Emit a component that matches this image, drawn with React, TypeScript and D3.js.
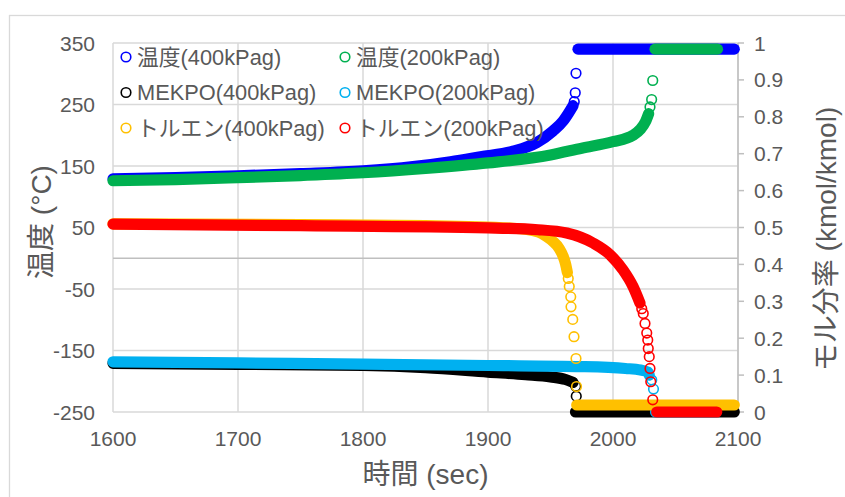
import React from 'react';
import * as d3 from 'd3';

type Pt = [number, number];

// 軸の目盛
const timeTicks = [1600, 1700, 1800, 1900, 2000, 2100];
const tempTicks = [-250, -150, -50, 50, 150, 250, 350];
const fracTicks = [0, 0.1, 0.2, 0.3, 0.4, 0.5, 0.6, 0.7, 0.8, 0.9, 1];

// 温度(400kPag) [°C]
const temp400Band: Pt[] = [[1600, 129], [1650, 131], [1700, 134], [1750, 137.5], [1800, 142], [1840, 149], [1870, 157], [1894, 165], [1920, 174], [1939, 188], [1952, 207], [1960, 223], [1965, 238], [1968, 248]];
const temp400Dots: Pt[] = [[1969, 254.6], [1969.8, 269], [1970.4, 300.7]];
const temp400Top: Pt[] = [[1972, 340], [2097, 340]];

// 温度(200kPag) [°C]
const temp200Band: Pt[] = [[1600, 126], [1650, 128], [1700, 131], [1750, 134.5], [1800, 139], [1850, 146], [1900, 155], [1950, 168], [1975, 179], [2000, 189.5], [2016, 200], [2022, 210], [2026, 222], [2028.5, 235]];
const temp200Dots: Pt[] = [[2029.6, 246], [2030.9, 258], [2031.8, 289]];
const temp200Top: Pt[] = [[2033.6, 340], [2083.6, 340]];

// MEKPO(400kPag) [kmol/kmol]
const mek400Band: Pt[] = [[1600, 0.132], [1700, 0.129], [1800, 0.126], [1850, 0.12], [1900, 0.108], [1930, 0.101], [1950, 0.095], [1962, 0.088], [1968, 0.08]];
const mek400Dots: Pt[] = [[1970.2, 0.07], [1970.6, 0.043]];
const mek400End: Pt[] = [[1970, 0], [2097, 0]];

// MEKPO(200kPag) [kmol/kmol]
const mek200Band: Pt[] = [[1600, 0.136], [1700, 0.133], [1800, 0.13], [1900, 0.126], [1975, 0.123], [2010, 0.118], [2022, 0.114], [2028, 0.108], [2029, 0.1]];
const mek200Dots: Pt[] = [[2031, 0.087], [2032.4, 0.062]];
const mek200End: Pt[] = [[2034, 0], [2082, 0]];

// トルエン(400kPag) [kmol/kmol]
const tol400Band: Pt[] = [[1600, 0.51], [1750, 0.508], [1850, 0.505], [1920, 0.498], [1940, 0.488], [1947, 0.475], [1952, 0.462], [1957, 0.443], [1960, 0.423], [1962, 0.402], [1963.5, 0.378]];
const tol400Dots: Pt[] = [[1964.2, 0.362], [1965, 0.34], [1966.2, 0.312], [1966.4, 0.285], [1967.8, 0.251], [1968.8, 0.204], [1970.4, 0.145], [1970.8, 0.069]];
const tol400End: Pt[] = [[1971, 0.019], [2097, 0.019]];

// トルエン(200kPag) [kmol/kmol]
const tol200Band: Pt[] = [[1600, 0.509], [1750, 0.505], [1900, 0.499], [1940, 0.494], [1963, 0.485], [1984, 0.458], [1998, 0.425], [2008, 0.385], [2016, 0.34], [2021.6, 0.295]];
const tol200Dots: Pt[] = [[2023, 0.28], [2024.2, 0.267], [2025.6, 0.24], [2027, 0.214], [2027.8, 0.195], [2028.2, 0.172], [2029, 0.15], [2029.6, 0.118], [2030.2, 0.082], [2031.8, 0.033]];
const tol200End: Pt[] = [[2035, 0], [2083, 0]];

const series = [
  { name: '温度(400kPag)', color: '#0000FF', right: false, bands: [temp400Band, temp400Top], dots: temp400Dots },
  { name: '温度(200kPag)', color: '#00B050', right: false, bands: [temp200Band, temp200Top], dots: temp200Dots },
  { name: 'MEKPO(400kPag)', color: '#000000', right: true, bands: [mek400Band, mek400End], dots: mek400Dots },
  { name: 'MEKPO(200kPag)', color: '#00B0F0', right: true, bands: [mek200Band, mek200End], dots: mek200Dots },
  { name: 'トルエン(400kPag)', color: '#FFC000', right: true, bands: [tol400Band, tol400End], dots: tol400Dots },
  { name: 'トルエン(200kPag)', color: '#FF0000', right: true, bands: [tol200Band, tol200End], dots: tol200Dots },
];

const W = 845;
const H = 497;
const plot = { left: 113, right: 738, top: 43, bottom: 412 };
const font = '"Liberation Sans", Arial, "Noto Sans CJK JP", sans-serif';
const textColor = '#595959';
const gridColor = '#D9D9D9';
const axisColor = '#BFBFBF';
const R = 4.8;
const SW = 1.6;

export default function App() {
  const x = d3.scaleLinear().domain([1600, 2100]).range([plot.left, plot.right]);
  const yL = d3.scaleLinear().domain([-250, 350]).range([plot.bottom, plot.top]);
  const yR = d3.scaleLinear().domain([0, 1]).range([plot.bottom, plot.top]);

  return (
    <svg width={W} height={H} style={{ position: 'absolute', left: 0, top: 0, background: '#fff' }}
      fontFamily={font}>
      <rect x={9.5} y={15.5} width={W} height={H} fill="#fff" stroke={gridColor} strokeWidth={1.3} />

      {/* 目盛線 */}
      {timeTicks.map(t => (
        <line key={'v' + t} x1={x(t)} x2={x(t)} y1={plot.top} y2={plot.bottom} stroke={gridColor} strokeWidth={1.5} />
      ))}
      {tempTicks.map(v => (
        <line key={'h' + v} x1={plot.left} x2={plot.right} y1={yL(v)} y2={yL(v)} stroke={gridColor} strokeWidth={1.5} />
      ))}
      <line x1={plot.left} x2={plot.right} y1={yL(0)} y2={yL(0)} stroke={axisColor} strokeWidth={1.5} />

      {/* 右軸 */}
      <line x1={plot.right} x2={plot.right} y1={plot.top} y2={plot.bottom} stroke={axisColor} strokeWidth={1.5} />
      {fracTicks.map(v => (
        <g key={'r' + v}>
          <line x1={plot.right} x2={plot.right + 6} y1={yR(v)} y2={yR(v)} stroke={axisColor} strokeWidth={1.5} />
          <text x={plot.right + 16} y={yR(v)} dy="0.36em" fontSize={21} fill={textColor}>{String(v)}</text>
        </g>
      ))}

      {/* 左軸 */}
      {tempTicks.map(v => (
        <text key={'l' + v} x={95} y={yL(v)} dy="0.36em" textAnchor="end" fontSize={21} fill={textColor}>{v}</text>
      ))}

      {/* 横軸 */}
      {timeTicks.map(t => (
        <text key={'b' + t} x={x(t)} y={438} dy="0.36em" textAnchor="middle" fontSize={21} fill={textColor}>{t}</text>
      ))}

      {/* 系列 */}
      {series.map(s => {
        const y = s.right ? yR : yL;
        const line = d3.line<Pt>().x(d => x(d[0])).y(d => y(d[1])).curve(d3.curveMonotoneX);
        return (
          <g key={s.name}>
            {s.bands.map((b, i) => (
              <path key={i} d={line(b) || ''} fill="none" stroke={s.color} strokeWidth={2 * R + SW}
                strokeLinecap="round" strokeLinejoin="round" />
            ))}
            {s.dots.map((d, i) => (
              <circle key={i} cx={x(d[0])} cy={y(d[1])} r={R} fill="none" stroke={s.color} strokeWidth={SW} />
            ))}
          </g>
        );
      })}

      {/* 凡例 */}
      {series.map((s, i) => {
        const col = i % 2;
        const row = Math.floor(i / 2);
        const lx = col === 0 ? 126 : 345;
        const ly = 57 + row * 35.5;
        return (
          <g key={'lg' + i}>
            <circle cx={lx} cy={ly} r={R} fill="none" stroke={s.color} strokeWidth={SW} />
            <text x={lx + 11} y={ly} dy="0.36em" fontSize={21.8} fill={textColor}>{s.name}</text>
          </g>
        );
      })}

      {/* 軸ラベル */}
      <text x={(plot.left + plot.right) / 2} y={474} dy="0.36em" textAnchor="middle" fontSize={28} fill={textColor}>時間 (sec)</text>
      <text transform={`translate(41,222) rotate(-90)`} dy="0.36em" textAnchor="middle" fontSize={28} fill={textColor}>温度 (°C)</text>
      <text transform={`translate(826,239) rotate(-90)`} dy="0.36em" textAnchor="middle" fontSize={28} fill={textColor}>モル分率 (kmol/kmol)</text>
    </svg>
  );
}
